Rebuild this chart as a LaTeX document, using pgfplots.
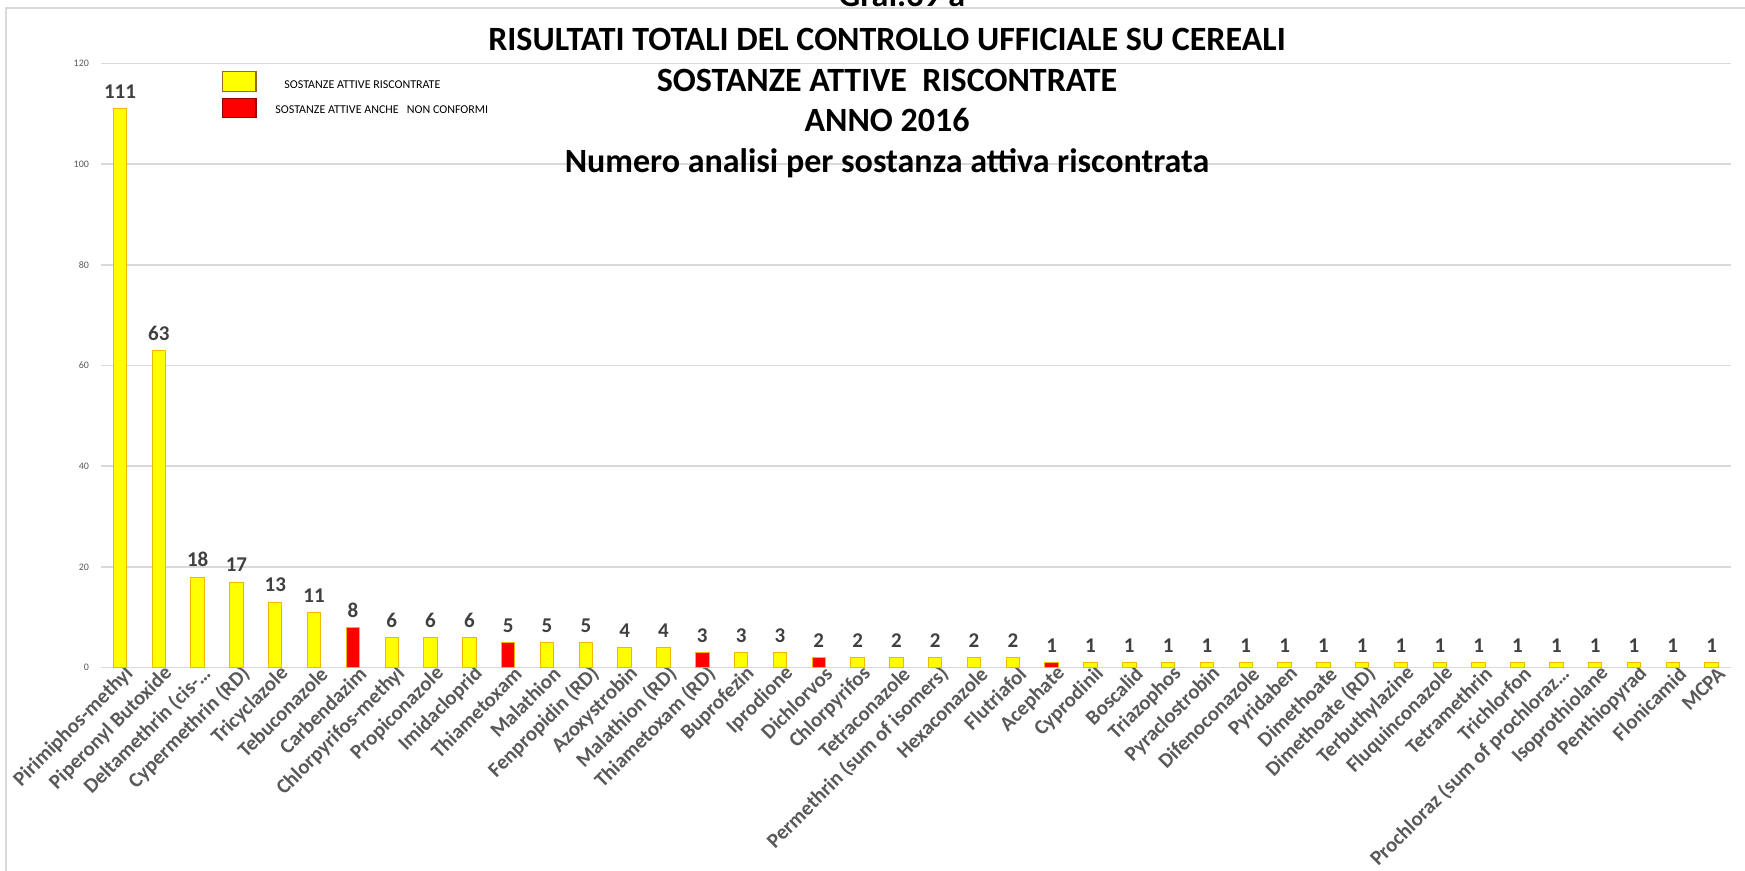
\documentclass[border=0pt]{standalone}
\usepackage{fontspec}
\setmainfont{Carlito}
\usepackage{pgfplots}
\pgfplotsset{compat=1.18}
\definecolor{barYel}{HTML}{FFFF00}
\definecolor{barRed}{HTML}{FF0000}
\definecolor{barEdge}{HTML}{F2B800}
\definecolor{gridc}{HTML}{D9D9D9}
\definecolor{lbl}{HTML}{595959}
\definecolor{val}{HTML}{404040}
\begin{document}
\begin{tikzpicture}[x=1pt,y=1pt]
\useasboundingbox (-50.3,-101.65) rectangle (822.2,333.85);
% chart frame (only top and left edges fall inside the picture)
\draw[gridc, line width=0.75pt] (-47.3,-120) -- (-47.3,329.85) -- (840,329.85);
\begin{axis}[
  at={(0,0)}, anchor=south west,
  scale only axis, width=815.2pt, height=302.2pt,
  xmin=-0.5, xmax=41.5, ymin=0, ymax=120,
  ytick={0,20,...,120},
  xtick={0,...,41},
  xticklabels={Pirimiphos-methyl,Piperonyl Butoxide,Deltamethrin (cis-…,Cypermethrin (RD),Tricyclazole,Tebuconazole,Carbendazim,Chlorpyrifos-methyl,Propiconazole,Imidacloprid,Thiametoxam,Malathion,Fenpropidin (RD),Azoxystrobin,Malathion (RD),Thiametoxam (RD),Buprofezin,Iprodione,Dichlorvos,Chlorpyrifos,Tetraconazole,Permethrin (sum of isomers),Hexaconazole,Flutriafol,Acephate,Cyprodinil,Boscalid,Triazophos,Pyraclostrobin,Difenoconazole,Pyridaben,Dimethoate,Dimethoate (RD),Terbuthylazine,Fluquinconazole,Tetramethrin,Trichlorfon,Prochloraz (sum of prochloraz…,Isoprothiolane,Penthiopyrad,Flonicamid,MCPA},
  xticklabel style={rotate=45, anchor=east, font=\fontsize{10.4}{12}\selectfont\bfseries, text=lbl, xshift=6pt, yshift=-4.5pt},
  yticklabel style={font=\fontsize{5}{6}\selectfont, text=lbl, xshift=-2.3pt},
  /pgf/number format/assume math mode=true,
  major tick length=0pt,
  axis line style={draw=none},
  ymajorgrids, grid style={gridc, line width=0.75pt},
  ybar, bar width=6.7pt, bar shift=0pt,
  nodes near coords,
  every node near coord/.append style={font=\fontsize{10.5}{12}\selectfont\bfseries, text=val, yshift=1.5pt},
  clip=false,
]
% substances found (yellow)
\addplot[fill=barYel, draw=barEdge, line width=0.5pt] coordinates {
  (0,111)(1,63)(2,18)(3,17)(4,13)(5,11)(7,6)(8,6)(9,6)(11,5)(12,5)
  (13,4)(14,4)(16,3)(17,3)(19,2)(20,2)(21,2)(22,2)(23,2)
  (25,1)(26,1)(27,1)(28,1)(29,1)(30,1)(31,1)(32,1)(33,1)(34,1)
  (35,1)(36,1)(37,1)(38,1)(39,1)(40,1)(41,1)};
% substances also non-compliant (red)
\addplot[fill=barRed, draw=barEdge, line width=0.5pt] coordinates {
  (6,8)(10,5)(15,3)(18,2)(24,1)};
\end{axis}
% legend
\draw[fill=barYel, draw=brown!80!black, line width=0.6pt] (61,287.9) rectangle (77.7,297.9);
\draw[fill=barRed, draw=red!60!black, line width=0.6pt] (61,274.9) rectangle (77.7,284.4);
\node[anchor=west, inner sep=0pt, font=\fontsize{6}{7}\selectfont] at (91.7,291.6) {SOSTANZE ATTIVE RISCONTRATE};
\node[anchor=west, inner sep=0pt, font=\fontsize{6}{7}\selectfont] at (87.2,278.9) {SOSTANZE ATTIVE ANCHE\ \ \ NON CONFORMI};
% titles
\begin{scope}[every node/.style={font=\fontsize{17}{20}\selectfont\bfseries, inner sep=0pt}]
\node[anchor=base] at (400.7,330.4) {Graf.39 a};
\node at (393.2,313.9) {RISULTATI TOTALI DEL CONTROLLO UFFICIALE SU CEREALI};
\node at (393.2,293.8) {SOSTANZE ATTIVE\ \ RISCONTRATE};
\node at (393.2,273.8) {ANNO 2016};
\node at (393.2,252.1) {Numero analisi per sostanza attiva riscontrata};
\end{scope}
\end{tikzpicture}
\end{document}
